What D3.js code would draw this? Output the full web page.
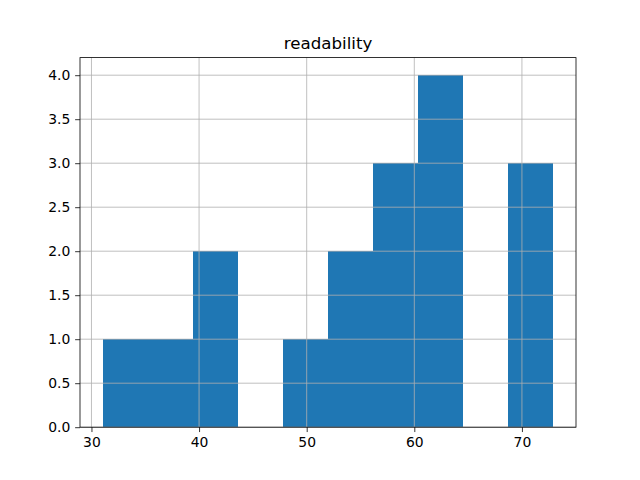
<!DOCTYPE html>
<html><head><meta charset="utf-8">
<script src="https://cdn.jsdelivr.net/npm/d3@7"></script>
<style>body{margin:0;background:#fff}svg{display:block}text{font-family:"DejaVu Sans",sans-serif;}</style>
</head><body>
<script>
const binEdges = [31.03, 35.22, 39.41, 43.60, 47.79, 51.98, 56.17, 60.36, 64.55, 68.74, 72.93];
const counts = [1, 1, 2, 0, 1, 2, 3, 4, 0, 3];
const xTicks = [30, 40, 50, 60, 70];
const yTicks = [0, 0.5, 1.0, 1.5, 2.0, 2.5, 3.0, 3.5, 4.0];
const title = "readability";

const W = 640, H = 480;
const L = 80, R = 576, T = 57.6, B = 427.2;
const svg = d3.select("body").append("svg").attr("width", W).attr("height", H);
const span = binEdges[binEdges.length-1] - binEdges[0];
const x = d3.scaleLinear().domain([binEdges[0] - 0.05*span, binEdges[binEdges.length-1] + 0.05*span]).range([L, R]);
const y = d3.scaleLinear().domain([0, d3.max(counts)*1.05]).range([B, T]);

const bins = counts.map((c,i) => ({x0: binEdges[i], x1: binEdges[i+1], c}));
svg.append("g").attr("shape-rendering", "crispEdges").selectAll("rect").data(bins).join("rect")
  .attr("x", d => x(d.x0)).attr("width", d => x(d.x1) - x(d.x0))
  .attr("y", d => y(d.c)).attr("height", d => y(0) - y(d.c))
  .attr("fill", "#1f77b4");

// grid on top
const grid = svg.append("g").attr("stroke", "#b0b0b0").attr("stroke-width", 0.8);
xTicks.forEach(t => grid.append("line").attr("x1", x(t)).attr("x2", x(t)).attr("y1", T).attr("y2", B));
yTicks.forEach(t => grid.append("line").attr("x1", L).attr("x2", R).attr("y1", y(t)).attr("y2", y(t)));

const xAxis = d3.axisBottom(x).tickValues(xTicks).tickFormat(d3.format("d")).tickSizeInner(4.86).tickSizeOuter(0).tickPadding(4.86);
const gx = svg.append("g").attr("transform", `translate(0,${B})`).call(xAxis);
const yAxis = d3.axisLeft(y).tickValues(yTicks).tickFormat(d3.format(".1f")).tickSizeInner(4.86).tickSizeOuter(0).tickPadding(4.86);
const gy = svg.append("g").attr("transform", `translate(${L},0)`).call(yAxis);
[gx, gy].forEach(g => {
  g.select(".domain").remove();
  g.selectAll("line").attr("stroke", "#000").attr("stroke-width", 0.8);
  g.selectAll("text").attr("font-size", "13.9px").attr("fill", "#000").attr("font-family", "DejaVu Sans");
});

svg.append("rect").attr("x", L).attr("y", T).attr("width", R-L).attr("height", B-T)
  .attr("fill", "none").attr("stroke", "#000").attr("stroke-width", 0.8);

svg.append("text").attr("x", (L+R)/2).attr("y", T - 8.33).attr("text-anchor", "middle")
  .attr("font-size", "16.67px").attr("fill", "#000").text(title);
</script>
</body></html>
